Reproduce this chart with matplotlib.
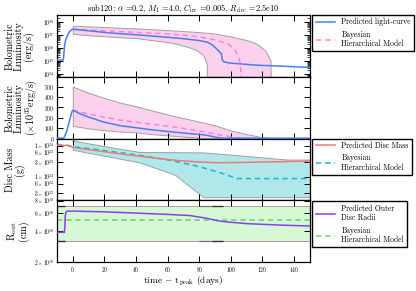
import matplotlib
matplotlib.use('Agg')
import matplotlib.pyplot as plt
from matplotlib.ticker import NullLocator, FixedLocator, FixedFormatter

plt.rcParams.update({
    'font.family': 'serif',
    'font.serif': ['cmr10', 'DejaVu Serif'],
    'mathtext.fontset': 'cm',
    'axes.formatter.use_mathtext': True,
    'axes.unicode_minus': False,
})

# ---------------- data ----------------
# bolometric luminosity, units of 1e35 erg/s
t_lum = [-10, -6.2, -5.9, -5.5, -5.0, -4.0, -3.0, -2.0, -1.0, -0.4, 0, 5, 10, 20, 30, 40,
         50, 60, 70, 80, 85, 88, 90, 92, 93.5, 94.0, 94.6, 95.5, 98.5, 100, 115, 130, 150]
lum = [1.2, 1.2, 1.5, 6, 25, 60, 115, 175, 235, 262, 271, 235, 205, 155, 122, 102,
       82, 66, 51, 37, 28, 18, 11, 6.6, 4.2, 3.7, 1.2, 0.9, 0.74, 0.70, 0.5, 0.42, 0.33]

t_lum_bhm = [0, 10, 20, 30, 40, 50, 60, 70, 80, 90, 95, 98, 100.6, 103, 104.8, 105.8, 106.3, 106.6]
lum_bhm = [271, 235, 205, 175, 155, 135, 118, 95, 70, 42, 27, 20, 12, 6, 2.1, 0.8, 0.2, 0.001]

t_lum_band = [0, 10, 20, 30, 40, 50, 60, 65, 70, 73, 78, 81.5, 83, 84.7, 85, 90, 100,
              110, 115, 118, 122, 124, 125, 125.5]
lum_band_hi = [500, 440, 390, 345, 310, 270, 230, 212, 195, 185, 167, 155, 150, 144, 143,
               125, 75, 40, 25, 15, 6, 2, 1.2, 0.001]
lum_band_lo = [120, 95, 78, 65, 57, 40, 28, 22, 15, 12, 7, 3.7, 2.2, 0.66, 0.001,
               0.001, 0.001, 0.001, 0.001, 0.001, 0.001, 0.001, 0.001, 0.001]

# disc mass (g)
t_mass = [-10, -4, -2, 0, 10, 20, 30, 42.6, 55, 65, 80, 91, 105, 120, 135, 150]
mass = [1.02e24, 1.0e24, 9.5e23, 8.7e23, 7.4e23, 6.3e23, 5.4e23, 4.5e23, 3.8e23, 3.35e23,
        2.95e23, 2.8e23, 2.85e23, 2.95e23, 3.05e23, 3.15e23]
t_mass_bhm = [-10, -4, -2, 0, 10, 20, 30, 42.6, 55, 63.7, 75, 84.8, 95, 103.8, 110, 150]
mass_bhm = [1.05e24, 1.03e24, 9.8e23, 9.2e23, 8.0e23, 6.9e23, 5.9e23, 4.8e23, 3.8e23, 3.2e23,
            2.4e23, 1.8e23, 1.25e23, 8.7e22, 8.7e22, 8.7e22]
t_mass_band = [0, 20, 42, 64.7, 82.6, 110, 135.4, 150]
mass_band_hi = [1.45e24, 9.5e23, 6.2e23, 6.1e23, 6.0e23, 4.6e23, 3.55e23, 3.55e23]
mass_band_lo = [7.3e23, 4.7e23, 2.9e23, 1.15e23, 2.2e22, 2.2e22, 2.2e22, 2.2e22]

# outer disc radius (cm)
t_rout = [-10, -5.3, -5.0, -4.8, -4.5, -3.5, -2, 0, 20, 42.6, 60, 74, 85, 92, 99.6,
          110, 130, 150]
rout = [3.9e10, 3.9e10, 4.4e10, 5.5e10, 6.1e10, 6.3e10, 6.3e10, 6.3e10, 6.2e10, 6.0e10,
        5.85e10, 5.7e10, 5.35e10, 5.05e10, 4.9e10, 4.75e10, 4.6e10, 4.5e10]
t_rout_bhm = [-10, 150]
rout_bhm = [5.1e10, 5.1e10]
rout_band_hi = [7.0e10, 7.0e10]
rout_band_lo = [3.2e10, 3.2e10]
# darker band-edge stretches: (start, end, opacity)
rout_dark_spans = [(-10, -5, 0.75), (80, 88, 0.3), (88, 95, 0.7)]

xticks = [0, 20, 40, 60, 80, 100, 120, 140]
mass_ticks = [1e24, 6e23, 3e23, 1e23, 6e22, 3e22]
mass_ticklabels = [r'$1\times10^{24}$', r'$6\times10^{23}$', r'$3\times10^{23}$',
                   r'$1\times10^{23}$', r'$6\times10^{22}$', r'$3\times10^{22}$']
rout_ticks = [2e10, 4e10, 6e10, 8e10]
rout_ticklabels = [r'$2\times10^{10}$', r'$4\times10^{10}$', r'$6\times10^{10}$',
                   r'$8\times10^{10}$']

title = (r'sub120: $\alpha$ =0.2, $M_1$ =4.0, $C_{\rm irr}$ =0.005, '
         r'$R_{\rm circ}$ =2.5e10')

# ---------------- colours ----------------
c_blue = '#4a7ef0'
c_pink = '#ff7fe0'
c_pinkfill = '#fbd0ec'
c_red = '#f07878'
c_cyan = '#1cb8c4'
c_cyanfill = '#b0e8ea'
c_purple = '#8a3ff0'
c_green = '#6cd06c'
c_greenfill = '#d6f8d4'
c_edge = '#a0a0a0'

# ---------------- figure ----------------
fig = plt.figure(figsize=(4.16, 2.91), dpi=100)
gs = fig.add_gridspec(4, 1, left=0.137, right=0.745, top=0.948, bottom=0.0997, hspace=0)
axs = [fig.add_subplot(gs[0])]
for i in range(1, 4):
    axs.append(fig.add_subplot(gs[i], sharex=axs[0]))

lw = 1.1
tick_fs = 4.0
leg_fs = 5.5
lab_fs = 7.2
dash = (0, (3.5, 2.5))

# panel 1 : log luminosity
ax = axs[0]
ax.fill_between(t_lum_band, [v * 1e35 for v in lum_band_lo], [v * 1e35 for v in lum_band_hi],
                facecolor=c_pinkfill, edgecolor=c_edge, lw=0.7, zorder=1)
ax.plot(t_lum, [v * 1e35 for v in lum], color=c_blue, lw=lw, zorder=3,
        label='Predicted light-curve')
ax.plot(t_lum_bhm, [v * 1e35 for v in lum_bhm], color=c_pink, lw=lw, ls=dash,
        zorder=2, label='Bayesian\nHierarchical Model')
ax.set_yscale('log')
ax.set_ylim(6.3e33, 3.2e38)
ax.set_yticks([1e34, 1e35, 1e36, 1e37, 1e38])
ax.set_ylabel('Bolometric\nLuminosity\n(erg/s)', fontsize=lab_fs, linespacing=0.9)
ax.legend(loc='upper left', bbox_to_anchor=(1.01, 1.005), fontsize=leg_fs,
          fancybox=False, edgecolor='black', framealpha=1, borderaxespad=0,
          handlelength=2.6, labelspacing=0.5)
ax.set_title(title, fontsize=6, pad=3)

# panel 2 : linear luminosity
ax = axs[1]
ax.fill_between(t_lum_band, lum_band_lo, lum_band_hi,
                facecolor=c_pinkfill, edgecolor=c_edge, lw=0.7, zorder=1)
ax.plot(t_lum, lum, color=c_blue, lw=lw, zorder=3)
ax.plot(t_lum_bhm, lum_bhm, color=c_pink, lw=lw, ls=dash, zorder=2)
ax.set_ylim(-3, 595)
ax.set_yticks([0, 100, 200, 300, 400, 500])
ax.set_ylabel('Bolometric\nLuminosity\n' + r'($\times10^{35}$erg/s)', fontsize=lab_fs,
              linespacing=0.9)

# panel 3 : disc mass
ax = axs[2]
ax.fill_between(t_mass_band, mass_band_lo, mass_band_hi,
                facecolor=c_cyanfill, edgecolor=c_edge, lw=0.7, zorder=1)
ax.plot(t_mass, mass, color=c_red, lw=lw, zorder=3, label='Predicted Disc Mass')
ax.plot(t_mass_bhm, mass_bhm, color=c_cyan, lw=lw, ls=dash, zorder=2,
        label='Bayesian\nHierarchical Model')
ax.set_yscale('log')
ax.set_ylim(1.75e22, 1.67e24)
ax.yaxis.set_major_locator(FixedLocator(mass_ticks))
ax.yaxis.set_major_formatter(FixedFormatter(mass_ticklabels))
ax.yaxis.set_minor_locator(NullLocator())
ax.set_ylabel('Disc Mass\n(g)', fontsize=lab_fs, linespacing=0.9)
ax.legend(loc='upper left', bbox_to_anchor=(1.01, 1.0), fontsize=leg_fs,
          fancybox=False, edgecolor='black', framealpha=1, borderaxespad=0,
          handlelength=2.6, labelspacing=0.5)

# panel 4 : outer radius
ax = axs[3]
ax.fill_between(t_rout_bhm, rout_band_lo, rout_band_hi,
                facecolor=c_greenfill, edgecolor=c_edge, lw=0.7, zorder=1)
for a, b, al in rout_dark_spans:
    ax.plot([a, b], [rout_band_hi[0]] * 2, color='black', lw=1.0, alpha=al, zorder=1.5,
            solid_capstyle='butt')
    ax.plot([a, b], [rout_band_lo[0]] * 2, color='black', lw=1.0, alpha=al, zorder=1.5,
            solid_capstyle='butt')
ax.plot(t_rout, rout, color=c_purple, lw=lw, zorder=3, label='Predicted Outer\nDisc Radii')
ax.plot(t_rout_bhm, rout_bhm, color=c_green, lw=lw, ls=dash, zorder=2,
        label='Bayesian\nHierarchical Model')
ax.set_yscale('log')
ax.set_ylim(1.995e10, 8.05e10)
ax.yaxis.set_major_locator(FixedLocator(rout_ticks))
ax.yaxis.set_major_formatter(FixedFormatter(rout_ticklabels))
ax.yaxis.set_minor_locator(NullLocator())
ax.set_ylabel('R$_{\\rm out}$\n(cm)', fontsize=lab_fs, linespacing=0.9)
ax.set_xlabel(r'time $-$ t$_{\rm peak}$ (days)', fontsize=6.8, labelpad=1)
ax.legend(loc='upper left', bbox_to_anchor=(1.01, 0.985), fontsize=leg_fs,
          fancybox=False, edgecolor='black', framealpha=1, borderaxespad=0,
          handlelength=2.6, labelspacing=0.5)

for i, ax in enumerate(axs):
    ax.set_xlim(-10, 150)
    ax.set_xticks(xticks)
    ax.tick_params(which='both', direction='in', top=True, right=True, labelsize=tick_fs,
                   pad=2)
    ax.tick_params(which='major', length=4, width=0.7)
    ax.tick_params(which='minor', length=2, width=0.5)
    for s in ax.spines.values():
        s.set_linewidth(0.9)
    ax.yaxis.label.set_va('top')
    ax.yaxis.set_label_coords(-0.205, 0.5)
    if i < 3:
        ax.tick_params(labelbottom=False)

fig.savefig('out.png', dpi=100)
